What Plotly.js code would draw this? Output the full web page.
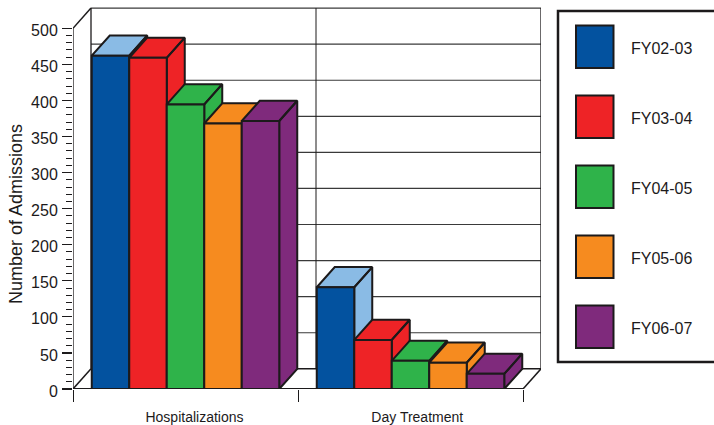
<!DOCTYPE html>
<html>
<head>
<meta charset="utf-8">
<script src="https://cdn.plot.ly/plotly-3.0.1.min.js"></script>
<style>html,body{margin:0;padding:0;background:#fff;overflow:hidden}</style>
</head>
<body>
<div id="chart" style="width:714px;height:425px"></div>
<script>
// Admissions by programme and fiscal year
const categories = ['Hospitalizations', 'Day Treatment'];
const fiscalYears = ['FY02-03', 'FY03-04', 'FY04-05', 'FY05-06', 'FY06-07'];
const fy0203 = [462, 141];
const fy0304 = [459, 68];
const fy0405 = [394.5, 39];
const fy0506 = [368, 36.5];
const fy0607 = [371.5, 21];
const seriesValues = [fy0203, fy0304, fy0405, fy0506, fy0607];
const frontColors = ['#03529F', '#EE2326', '#2FB34A', '#F68B1F', '#7F2A7C'];
const faceColors = ['#8ABBE5', '#EE2326', '#2FB34A', '#F68B1F', '#7F2A7C'];
const yTicks = [0, 50, 100, 150, 200, 250, 300, 350, 400, 450, 500];
const yMinorTicks = [];
for (let v = 0; v <= 500; v += 10) if (v % 50) yMinorTicks.push(v);

// Oblique projection: how far the depth of the box shifts a point, in axis units
const depthX = 0.08, depthY = 28;
const ink = '#1c1a1b';
const W = 714, H = 425;
const margin = {l: 73, r: 173, t: 7, b: 36, pad: 0};
const xRange = [0, 2.08], yRange = [0, 529.5];
const barWidth = 1 / 6, groupStart = 1 / 12;

const traces = [];
function wire(xs, ys, color, width) {
  traces.push({type: 'scatter', mode: 'lines', x: xs, y: ys, cliponaxis: false, showlegend: false,
    hoverinfo: 'skip', line: {color: color, width: width, simplify: false}});
}

// Back wall grid, floor and side-wall edges
yTicks.slice(1).forEach(v => wire([depthX, 2 + depthX], [v + depthY, v + depthY], '#3a3a3a', 1.2));
wire([1 + depthX, 1 + depthX], [depthY, 500 + depthY], ink, 1);
wire([depthX, depthX], [depthY, 500 + depthY], ink, 1.3);
wire([2 + depthX, 2 + depthX], [depthY, 500 + depthY], ink, 1.3);
wire([depthX, 2 + depthX], [depthY, depthY], ink, 1.6);
wire([0, depthX], [500, 500 + depthY], ink, 1.5);
wire([0, depthX], [0, depthY], ink, 1.5);
wire([2, 2 + depthX], [0, depthY], ink, 1.5);
wire([0, 0], [0, 500], ink, 1.3);
wire([0, 2], [0, 0], ink, 2);

// Top and side faces of each box, painted left to right
seriesValues.forEach((vals, s) => {
  const xs = [], ys = [];
  vals.forEach((v, g) => {
    const x0 = g + groupStart + s * barWidth, x1 = x0 + barWidth;
    xs.push(x0, x1, x1 + depthX, x0 + depthX, x0, null);
    ys.push(v, v, v + depthY, v + depthY, v, null);
    xs.push(x1, x1, x1 + depthX, x1 + depthX, x1, null);
    ys.push(0, v, v + depthY, depthY, 0, null);
  });
  traces.push({type: 'scatter', mode: 'lines', x: xs, y: ys, fill: 'toself', fillcolor: faceColors[s],
    cliponaxis: false, showlegend: false, hoverinfo: 'skip', line: {color: ink, width: 2, simplify: false}});
});

// Front faces sit on an overlaid subplot so they cover the faces of neighbouring boxes
seriesValues.forEach((vals, s) => {
  traces.push({type: 'bar', xaxis: 'x2', yaxis: 'y2', name: fiscalYears[s], x: [0.5, 1.5], y: vals,
    cliponaxis: false, showlegend: false, marker: {color: frontColors[s], line: {color: ink, width: 2}}});
});

// Legend drawn by hand: large swatches in a box running off the right edge
const plotW = W - margin.l - margin.r, plotH = H - margin.t - margin.b;
const px = x => (x - margin.l) / plotW;
const py = y => 1 - (y - margin.t) / plotH;
const shapes = [{type: 'rect', xref: 'paper', yref: 'paper', layer: 'above', x0: px(558), x1: px(740), y0: py(362), y1: py(11),
  line: {color: ink, width: 2.5}, fillcolor: '#fff'}];
const annotations = [];
fiscalYears.forEach((fy, i) => {
  const top = 25.5 + i * 70;
  shapes.push({type: 'rect', xref: 'paper', yref: 'paper', layer: 'above', x0: px(576), x1: px(613.5), y0: py(top + 42.5), y1: py(top),
    line: {color: ink, width: 2}, fillcolor: frontColors[i]});
  annotations.push({xref: 'paper', yref: 'paper', x: px(629.5), y: py(top + 23), text: fy, showarrow: false,
    xanchor: 'left', yanchor: 'middle', align: 'left', font: {size: 16, color: ink}, borderpad: 0});
});
// Value-axis title, centred on the lower part of the scale
annotations.push({xref: 'paper', yref: 'paper', x: px(15.5), y: py(214.5), text: 'Number of Admissions', textangle: -90,
  showarrow: false, xanchor: 'center', yanchor: 'middle', font: {size: 18, color: ink}, borderpad: 0});

const font = {family: '"Liberation Sans", Arial, sans-serif', color: ink, size: 16};
const layout = {
  width: W, height: H, autosize: false, margin: margin, showlegend: false,
  paper_bgcolor: '#fff', plot_bgcolor: 'rgba(0,0,0,0)', font: font,
  barmode: 'group', bargap: 1 / 6, bargroupgap: 0,
  xaxis: {range: xRange, fixedrange: true, showgrid: false, zeroline: false, showline: false,
    tickmode: 'array', tickvals: [0.54, 1.53], ticktext: categories, ticklen: 0,
    tickfont: {size: 14, color: ink}, ticklabelstandoff: 18,
    minor: {tickmode: 'array', tickvals: [0, 1, 2], ticks: 'outside', ticklen: 12, tickwidth: 1, tickcolor: ink}},
  yaxis: {range: yRange, fixedrange: true, showgrid: false, zeroline: false, showline: false,
    tickmode: 'array', tickvals: yTicks, ticks: 'outside', ticklen: 10, tickwidth: 1.2, tickcolor: ink,
    tickfont: {size: 16, color: ink}, ticklabelstandoff: 1, ticklabelshift: 2,
    minor: {tickmode: 'array', tickvals: yMinorTicks, ticks: 'outside', ticklen: 6, tickwidth: 1, tickcolor: ink}},
  xaxis2: {range: xRange, overlaying: 'x', anchor: 'y2', visible: false, fixedrange: true},
  yaxis2: {range: yRange, overlaying: 'y', anchor: 'x2', visible: false, fixedrange: true},
  shapes: shapes, annotations: annotations
};
Plotly.newPlot('chart', traces, layout, {displayModeBar: false, staticPlot: true});
</script>
</body>
</html>
